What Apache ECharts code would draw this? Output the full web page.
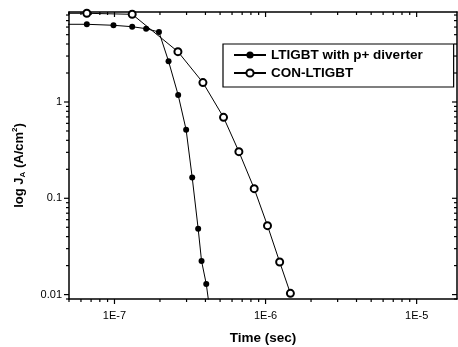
<!DOCTYPE html>
<html><head><meta charset="utf-8">
<script src="https://cdn.jsdelivr.net/npm/echarts@6/dist/echarts.min.js"></script>
<style>html,body{margin:0;padding:0;background:#fff}#c{width:458px;height:347px}</style>
</head><body><div id="c"></div>
<script>
const seriesNames = ['LTIGBT with p+ diverter', 'CON-LTIGBT'];
const diverterTime = [4.3e-8, 6.56e-8, 9.85e-8, 1.31e-7, 1.62e-7, 1.97e-7, 2.28e-7, 2.64e-7, 2.98e-7, 3.27e-7, 3.58e-7, 3.77e-7, 4.05e-7, 4.32e-7];
const diverterJ = [6.41, 6.41, 6.26, 6.05, 5.77, 5.33, 2.65, 1.18, 0.515, 0.164, 0.0483, 0.0223, 0.0129, 0.0061];
const conTime = [4.3e-8, 6.56e-8, 1.31e-7, 2.63e-7, 3.85e-7, 5.27e-7, 6.66e-7, 8.41e-7, 1.03e-6, 1.24e-6, 1.46e-6];
const conJ = [8.34, 8.34, 8.14, 3.33, 1.59, 0.693, 0.305, 0.126, 0.052, 0.0218, 0.0103];
const xTickLabels = ['1E-7', '1E-6', '1E-5'];
const yTickLabels = ['0.01', '0.1', '1'];
const xMajorTicks = [1e-7, 1e-6, 1e-5];
const yMajorTicks = [0.01, 0.1, 1];
const minorMultipliers = [2, 3, 4, 5, 6, 7, 8, 9];
const xDecades = [1e-8, 1e-7, 1e-6, 1e-5];
const yDecades = [0.001, 0.01, 0.1, 1];
const xMin = 5e-8, xMax = 1.85e-5, yMin = 0.009, yMax = 8.6;

function isPow10(v) { const l = Math.log10(v); return Math.abs(l - Math.round(l)) < 1e-6; }
function minors(decades, lo, hi) {
  const out = [];
  decades.forEach(d => minorMultipliers.forEach(m => { const v = d * m; if (v >= lo * 0.9999 && v <= hi * 1.0001) out.push(v); }));
  return out;
}
const xMinor = minors(xDecades, xMin, xMax);
const yMinor = minors(yDecades, yMin, yMax);

const chart = echarts.init(document.getElementById('c'), null, {renderer: 'canvas'});
const font = 'Liberation Sans, Arial, sans-serif';
const axLine = {show: true, lineStyle: {color: '#000', width: 1.5}};

chart.setOption({
  animation: false,
  backgroundColor: '#fff',
  grid: {left: 69, top: 12, right: 1, bottom: 48, containLabel: false, outerBoundsMode: 'none'},
  legend: {
    left: 223, top: 44, orient: 'vertical',
    data: seriesNames,
    itemWidth: 32, itemHeight: 9, itemGap: 4,
    padding: [4, 31, 7, 10],
    borderColor: '#000', borderWidth: 1.2, borderRadius: 0,
    textStyle: {fontFamily: font, fontWeight: 'bold', fontSize: 13.5, color: '#000', lineHeight: 14}
  },
  xAxis: [{
    type: 'log', min: xMin, max: xMax, logBase: 10,
    name: 'Time (sec)', nameLocation: 'middle', nameGap: 32,
    nameTextStyle: {fontFamily: font, fontWeight: 'bold', fontSize: 13.5, color: '#000'},
    axisLine: axLine, axisTick: {show: false}, splitLine: {show: false},
    axisLabel: {
      margin: 11, fontFamily: font, fontSize: 11, color: '#000',
      showMinLabel: false, showMaxLabel: false,
      formatter: v => { if (!isPow10(v)) return ''; const i = xMajorTicks.findIndex(t => Math.abs(Math.log10(t) - Math.log10(v)) < 1e-6); return i >= 0 ? xTickLabels[i] : ''; }
    }
  }, {
    type: 'log', min: xMin, max: xMax, position: 'top',
    axisLine: axLine, axisTick: {show: false}, axisLabel: {show: false}, splitLine: {show: false}
  }],
  yAxis: [{
    type: 'log', min: yMin, max: yMax, logBase: 10,
    name: '{n|log J}{s|A}{n| (A/cm}{p|2}{n|)}', nameLocation: 'middle', nameGap: 42, nameRotate: 90,
    nameTextStyle: {
      fontFamily: font, fontWeight: 'bold', fontSize: 13, color: '#000',
      padding: [0, 20, 0, 0],
      rich: {
        n: {fontFamily: font, fontWeight: 'bold', fontSize: 13, color: '#000', lineHeight: 16},
        s: {fontFamily: font, fontWeight: 'bold', fontSize: 8, color: '#000', verticalAlign: 'bottom', lineHeight: 8},
        p: {fontFamily: font, fontWeight: 'bold', fontSize: 8, color: '#000', verticalAlign: 'top', lineHeight: 8}
      }
    },
    axisLine: axLine, axisTick: {show: false}, splitLine: {show: false},
    axisLabel: {
      margin: 7, fontFamily: font, fontSize: 11, color: '#000',
      showMinLabel: false, showMaxLabel: false,
      formatter: v => { if (!isPow10(v)) return ''; const i = yMajorTicks.findIndex(t => Math.abs(Math.log10(t) - Math.log10(v)) < 1e-6); return i >= 0 ? yTickLabels[i] : ''; }
    }
  }, {
    type: 'log', min: yMin, max: yMax, position: 'right',
    axisLine: axLine, axisTick: {show: false}, axisLabel: {show: false}, splitLine: {show: false}
  }],
  series: [{
    name: seriesNames[0], type: 'line', clip: true,
    data: diverterTime.map((t, i) => [t, diverterJ[i]]),
    symbol: 'circle', symbolSize: 6, showAllSymbol: true,
    itemStyle: {color: '#000'}, lineStyle: {color: '#000', width: 1}
  }, {
    name: seriesNames[1], type: 'line', clip: true,
    data: conTime.map((t, i) => [t, conJ[i]]),
    symbol: 'emptyCircle', symbolSize: 7, showAllSymbol: true,
    itemStyle: {color: '#000', borderWidth: 1}, lineStyle: {color: '#000', width: 1}
  }, {
    type: 'custom', silent: true, clip: false, xAxisIndex: 0, yAxisIndex: 0,
    data: [[xMin, yMin]],
    renderItem: (params, api) => {
      const cs = params.coordSys;
      const L = cs.x, T = cs.y, R = cs.x + cs.width, B = cs.y + cs.height;
      const children = [];
      const st = {stroke: '#000', lineWidth: 1.2};
      const addX = (v, len) => {
        const px = api.coord([v, yMin])[0];
        children.push({type: 'line', shape: {x1: px, y1: B, x2: px, y2: B + len}, style: st});
        children.push({type: 'line', shape: {x1: px, y1: T, x2: px, y2: T + len}, style: st});
      };
      const addY = (v, len) => {
        const py = api.coord([xMin, v])[1];
        children.push({type: 'line', shape: {x1: L - len, y1: py, x2: L, y2: py}, style: st});
        children.push({type: 'line', shape: {x1: R - len, y1: py, x2: R, y2: py}, style: st});
      };
      xMajorTicks.forEach(v => addX(v, 5));
      xMinor.forEach(v => addX(v, 3));
      yMajorTicks.forEach(v => addY(v, 5));
      yMinor.forEach(v => addY(v, 3));
      return {type: 'group', children};
    }
  }]
});
</script></body></html>
